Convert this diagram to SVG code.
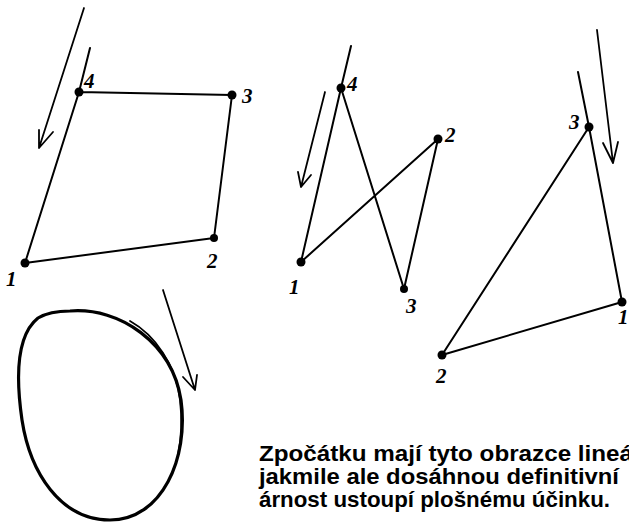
<svg xmlns="http://www.w3.org/2000/svg" width="629" height="525" viewBox="0 0 629 525">
<style>
.ln{fill:none;stroke:#000;stroke-width:2;stroke-linecap:round;stroke-linejoin:round}
.ar{fill:none;stroke:#000;stroke-width:1.8;stroke-linecap:round;stroke-linejoin:round}
.dot{fill:#000}
.num{font-family:"Liberation Serif",serif;font-style:italic;font-weight:bold;font-size:21px;fill:#000}
.txt{font-family:"Liberation Sans",Arial,sans-serif;font-weight:bold;font-size:22.5px;fill:#000}
</style>
<rect width="629" height="525" fill="#fff"/>
<g id="connectors">
  <path class="ln" d="M90,48 L79,92 L25,263 L214,238 L232,95 L79,92"/>
  <path class="ar" d="M84,8 L39,148 M39,130 L39,148 L53,132"/>
  <path class="ln" d="M351,46 L341,88 L301,262 L438,139 L404,289 L341,88"/>
  <path class="ar" d="M325,92 L301,187 M298,172 L301,187 L311,175"/>
  <path class="ln" d="M578,72 L589,127 L622,302 L442,355 L589,127"/>
  <path class="ar" d="M597,30 L613,163 M603,143 L613,163 L618,142"/>
  <path class="ar" d="M163,290 L195,390 M183,377 L195,390 L197,375"/>
</g>
<g id="fig1">
  <circle class="dot" cx="79" cy="92" r="4.5"/>
  <circle class="dot" cx="232" cy="95" r="4.5"/>
  <circle class="dot" cx="214" cy="238" r="4"/>
  <circle class="dot" cx="25" cy="263" r="4.5"/>
  <text class="num" x="84" y="88">4</text>
  <text class="num" x="242" y="103">3</text>
  <text class="num" x="207" y="268">2</text>
  <text class="num" x="6" y="286">1</text>
</g>
<g id="fig2">
  <circle class="dot" cx="341" cy="88" r="4.5"/>
  <circle class="dot" cx="438" cy="139" r="4.5"/>
  <circle class="dot" cx="404" cy="289" r="4"/>
  <circle class="dot" cx="301" cy="262" r="4.5"/>
  <text class="num" x="347" y="91">4</text>
  <text class="num" x="445" y="142">2</text>
  <text class="num" x="406" y="313">3</text>
  <text class="num" x="289" y="294">1</text>
</g>
<g id="fig3">
  <circle class="dot" cx="589" cy="127" r="4.5"/>
  <circle class="dot" cx="622" cy="302" r="4.5"/>
  <circle class="dot" cx="442" cy="355" r="4.5"/>
  <text class="num" x="569" y="129">3</text>
  <text class="num" x="618" y="324">1</text>
  <text class="num" x="436" y="383">2</text>
</g>
<g id="ellipse">
  <path d="M70,311 C120,307 172,343 181,400 C189,458 162,520 110,520 C60,520 30,472 22,420 C15,372 18,334 38,318 C48,312 58,311 70,311 Z" fill="none" stroke="#000" stroke-width="3.2"/>
  <path d="M130,321 C155,335 176,365 180,400 C183,425 180,445 178,455" fill="none" stroke="#000" stroke-width="1.8" stroke-linecap="round"/>
</g>
<g id="caption">
  <text class="txt" x="259" y="461" textLength="374" lengthAdjust="spacingAndGlyphs">Zpočátku mají tyto obrazce lineá</text>
  <text class="txt" x="259" y="484" textLength="360" lengthAdjust="spacingAndGlyphs">jakmile ale dosáhnou definitivní</text>
  <text class="txt" x="259" y="507" textLength="351" lengthAdjust="spacingAndGlyphs">árnost ustoupí plošnému účinku.</text>
</g>
</svg>
